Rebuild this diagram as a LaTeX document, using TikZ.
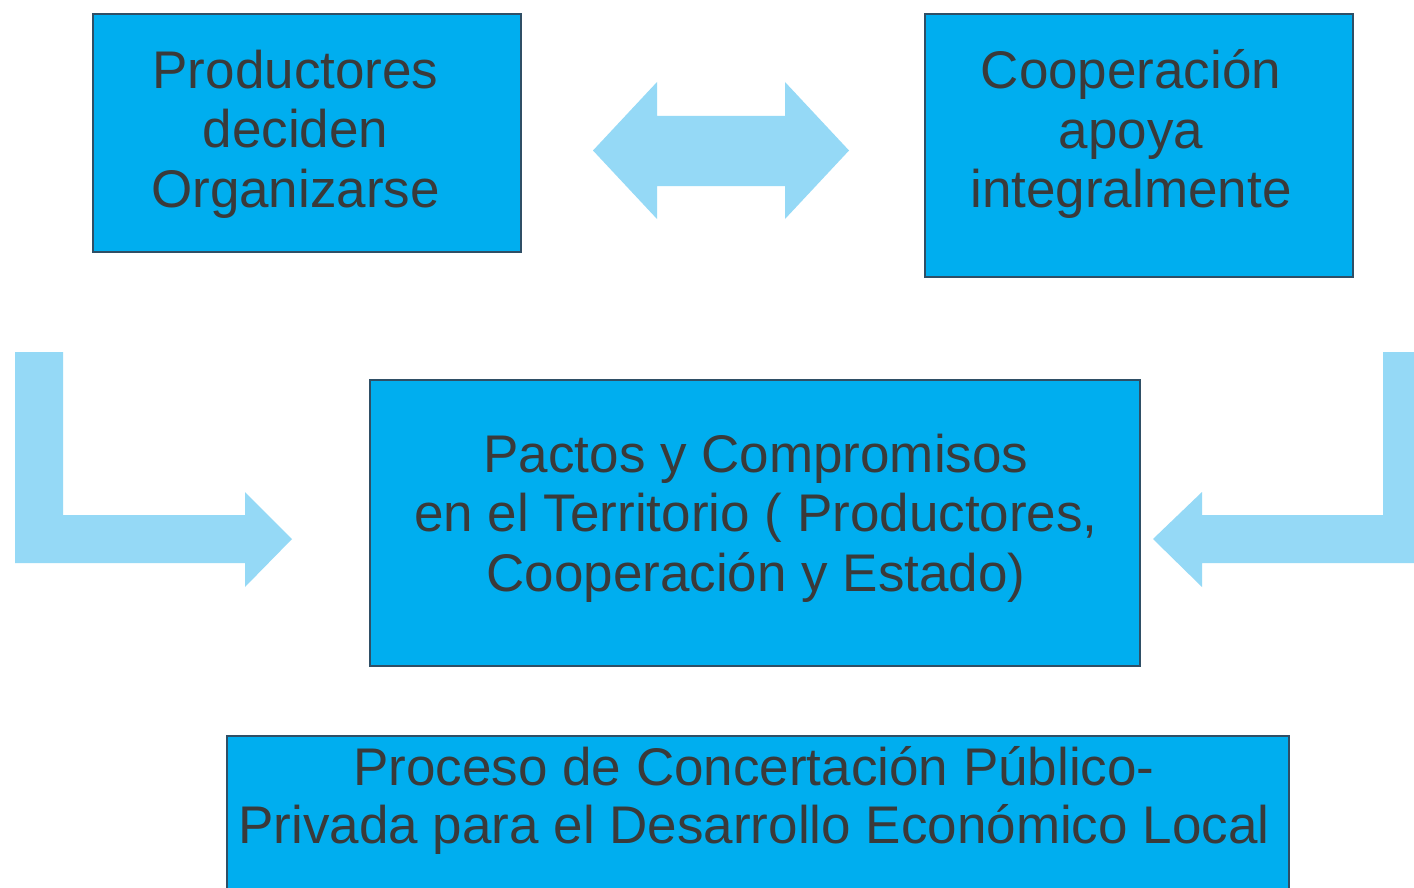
\documentclass[tikz,border=0pt]{standalone}
\usepackage{fontspec}
\setmainfont{Liberation Sans}
\definecolor{boxfill}{HTML}{00AEEF}
\definecolor{boxline}{HTML}{2F4F66}
\definecolor{arrowfill}{HTML}{95D9F6}
\definecolor{txtcol}{HTML}{3A3A3A}
\begin{document}
\begin{tikzpicture}[x=1pt,y=-1pt,
  bluebox/.style={draw=boxline,line width=1.8pt,fill=boxfill,rectangle,inner sep=0pt},
  boxtext/.style={align=center,inner sep=0pt,text=txtcol,font=\fontsize{53}{59.5}\selectfont},
  blockarrow/.style={fill=arrowfill,draw=none}]
\useasboundingbox (0,0) rectangle (1414,888);
\fill[white] (0,0) rectangle (1414,888);
% boxes
\node[bluebox,minimum width=428pt,minimum height=238pt] (prod) at (307,133) {};
\node[bluebox,minimum width=428pt,minimum height=263pt] (coop) at (1139,145.5) {};
\node[bluebox,minimum width=770pt,minimum height=286pt] (pact) at (755,523) {};
\node[bluebox,minimum width=1062pt,minimum height=180pt] (proc) at (758,826) {};
% texts
\node[boxtext] (prodT) at (295.5,134) {Productores\\deciden\\Organizarse};
\node[boxtext] (coopT) at (1131,134) {Cooperación\\apoya\\integralmente};
\node[boxtext] (pactT) at (756,518) {Pactos y Compromisos\\en el Territorio ( Productores,\\Cooperación y Estado)};
\node[boxtext,font=\fontsize{53}{58}\selectfont] (procT) at (754,800) {Proceso de Concertación Público-\\Privada para el Desarrollo Económico Local};
% block arrows
\fill[blockarrow] (593,150.5) -- (657,82) -- (657,116) -- (785,116) -- (785,82) -- (849,150.5)
  -- (785,219) -- (785,186) -- (657,186) -- (657,219) -- cycle;
\fill[blockarrow] (15,352) -- (63,352) -- (63,515) -- (245,515) -- (245,492) -- (292,539)
  -- (245,587) -- (245,563) -- (15,563) -- cycle;
\fill[blockarrow] (1383,352) -- (1420,352) -- (1420,563) -- (1202,563) -- (1202,587)
  -- (1153,539) -- (1202,492) -- (1202,515) -- (1383,515) -- cycle;
\end{tikzpicture}
\end{document}
